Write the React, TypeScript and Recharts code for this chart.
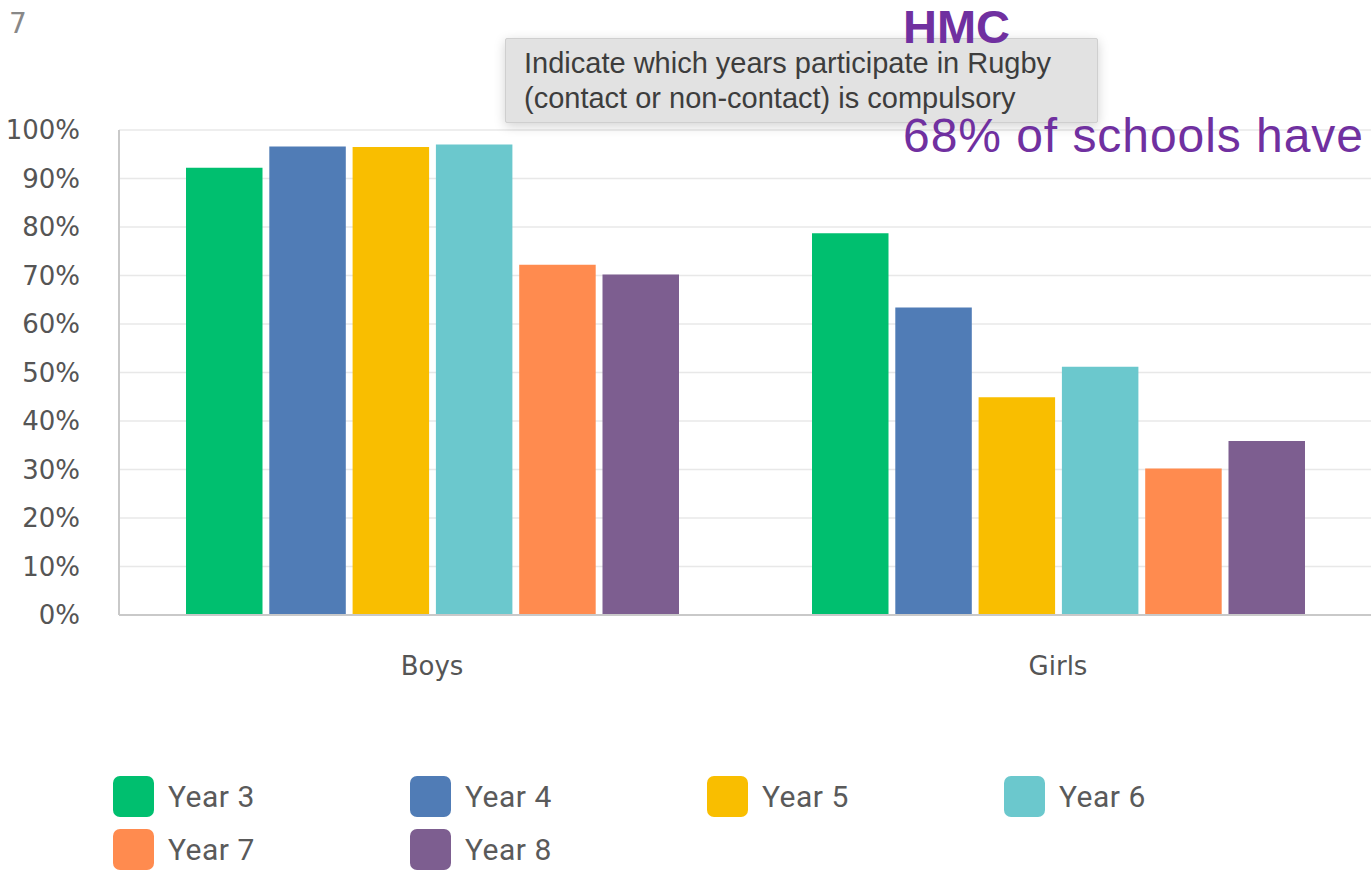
import React from 'react';
import { BarChart, Bar, XAxis, YAxis, CartesianGrid } from 'recharts';

// Rugby compulsory by year group, % of schools
const GROUPS = ['Boys', 'Girls'];
const YEARS = ['Year 3', 'Year 4', 'Year 5', 'Year 6', 'Year 7', 'Year 8'];
const YEAR_KEYS = ['y3', 'y4', 'y5', 'y6', 'y7', 'y8'];
const COLORS = ['#00BF6F', '#507CB6', '#F9BE00', '#6BC8CD', '#FF8B4F', '#7D5E90'];
const BOYS = [92.2, 96.6, 96.5, 97.0, 72.2, 70.2];
const GIRLS = [78.7, 63.4, 44.9, 51.2, 30.2, 35.9];
const Y_TICKS = [0, 10, 20, 30, 40, 50, 60, 70, 80, 90, 100];

const TICK_FONT = { fontSize: 26, fill: '#555', fontFamily: '"DejaVu Sans", sans-serif' };

const data = GROUPS.map((group, gi) => {
  const vals = gi === 0 ? BOYS : GIRLS;
  const row: Record<string, string | number> = { group };
  YEAR_KEYS.forEach((k, i) => { row[k] = vals[i]; });
  return row;
});

function YearLegend() {
  return (
    <div style={{ position: 'absolute', left: 113, top: 776, width: 1200 }}>
      {YEARS.map((name, i) => (
        <div
          key={name}
          style={{
            position: 'absolute',
            left: (i % 4) * 297,
            top: Math.floor(i / 4) * 53,
            display: 'flex',
            alignItems: 'center',
            height: 41,
          }}
        >
          <span style={{ width: 41, height: 41, borderRadius: 7, background: COLORS[i], display: 'inline-block' }} />
          <span style={{ marginLeft: 14, fontFamily: 'Roboto, sans-serif', fontSize: 30, letterSpacing: 0.5, color: '#5a5a5a', whiteSpace: 'nowrap' }}>
            {name}
          </span>
        </div>
      ))}
    </div>
  );
}

export default function App() {
  return (
    <div style={{ position: 'absolute', left: 0, top: 0, width: 1371, height: 873, background: '#fff', overflow: 'hidden' }}>
      <BarChart
        width={1371}
        height={873}
        data={data}
        margin={{ top: 130, right: 0, bottom: 198, left: 0 }}
        barSize={76.5}
        barGap={6.8}
      >
        <CartesianGrid vertical={false} stroke="#e8e8e8" strokeWidth={1.5} />
        <XAxis
          dataKey="group"
          height={60}
          interval={0}
          tickLine={false}
          tickSize={0}
          tickMargin={42}
          axisLine={{ stroke: '#c9c9c9', strokeWidth: 2 }}
          tick={TICK_FONT}
        />
        <YAxis
          width={119}
          domain={[0, 100]}
          ticks={Y_TICKS}
          interval={0}
          tickFormatter={(v) => `${v}%`}
          tickLine={false}
          tickSize={0}
          tickMargin={39}
          axisLine={{ stroke: '#c9c9c9', strokeWidth: 2 }}
          tick={TICK_FONT}
        />
        {YEAR_KEYS.map((k, i) => (
          <Bar key={k} dataKey={k} name={YEARS[i]} fill={COLORS[i]} isAnimationActive={false} />
        ))}
      </BarChart>

      <YearLegend />

      {/* question box */}
      <div
        style={{
          position: 'absolute', left: 505, top: 38, width: 593, height: 85,
          background: '#e2e2e2', border: '1px solid #cfcfcf', borderRadius: 2,
          boxShadow: '0 3px 12px rgba(0,0,0,0.18)', boxSizing: 'border-box',
        }}
      />
      <svg width={1371} height={873} style={{ position: 'absolute', left: 0, top: 0, pointerEvents: 'none' }}>
        <text x={9} y={33} fontSize={28} fill="#888" fontFamily='"DejaVu Sans", sans-serif'>7</text>
        <text x={524} y={73} fontSize={29} fill="#3d3d3d" fontFamily='"Liberation Sans", Arial, sans-serif'>
          Indicate which years participate in Rugby
        </text>
        <text x={524} y={108} fontSize={29} fill="#3d3d3d" fontFamily='"Liberation Sans", Arial, sans-serif'>
          (contact or non-contact) is compulsory
        </text>
        <text x={903} y={43} fontSize={47} fontWeight="bold" fill="#7030A0" fontFamily='"Liberation Sans", Arial, sans-serif'>
          HMC
        </text>
        <text x={903} y={152} fontSize={48} fill="#7030A0" fontFamily='"Liberation Sans", Arial, sans-serif' textLength={460} lengthAdjust="spacing">
          68% of schools have
        </text>
      </svg>
    </div>
  );
}
